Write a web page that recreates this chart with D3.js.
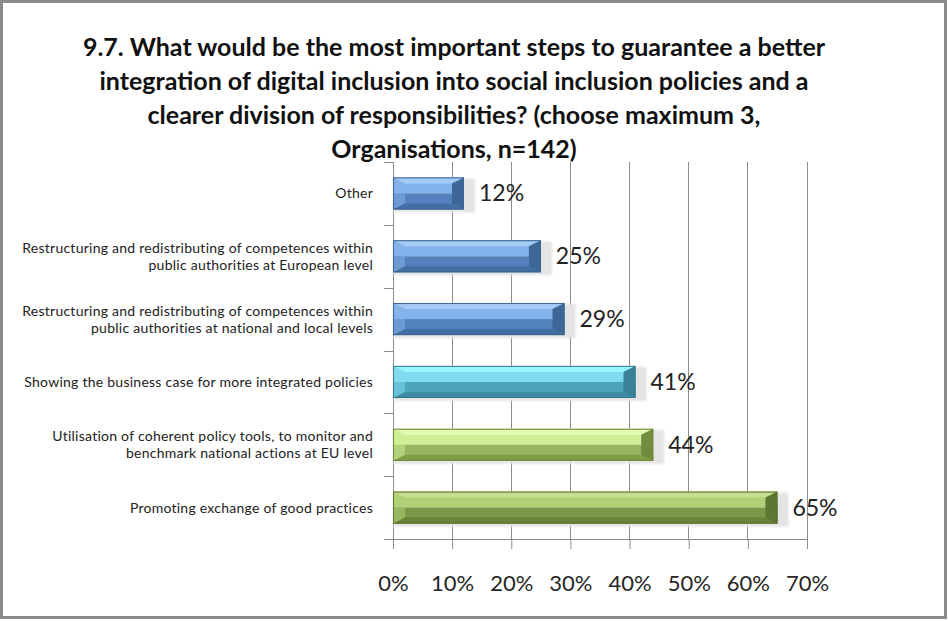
<!DOCTYPE html>
<html>
<head>
<meta charset="utf-8">
<script src="https://cdn.jsdelivr.net/npm/d3@7"></script>
<style>
  html, body { margin: 0; padding: 0; background: #fff; }
  svg { display: block; }
</style>
</head>
<body>
<svg id="chart" width="948" height="621"></svg>
<script>
// Survey answers, question 9.7 (organisations, n=142)
const titleLines = [
  "9.7. What would be the most important steps to guarantee a better",
  "integration of digital inclusion into social inclusion policies and a",
  "clearer division of responsibilities? (choose maximum 3,",
  "Organisations, n=142)"
];
const categories = [
  "Other",
  "Restructuring and redistributing of competences within\npublic authorities at European level",
  "Restructuring and redistributing of competences within\npublic authorities at national and local levels",
  "Showing the business case for more integrated policies",
  "Utilisation of coherent policy tools, to monitor and\nbenchmark national actions at EU level",
  "Promoting exchange of good practices"
];
const values = [0.12, 0.25, 0.29, 0.41, 0.44, 0.65];
const palette = ["blue", "blue", "blue", "cyan", "lime", "olive"];
const xTicks = [0, 0.1, 0.2, 0.3, 0.4, 0.5, 0.6, 0.7];

// Facet shades for the bevelled bars
const shades = {
  blue:  { top: "#a6cbf6", upper: "#84b2ea", lower: "#5482bf", bottom: "#426ea3", left: "#6c9bd3", right: "#3e6797", edge: "#3b6391" },
  cyan:  { top: "#96f6ff", upper: "#7edbed", lower: "#4ea3bc", bottom: "#3f8ba3", left: "#66c2d8", right: "#3a8199", edge: "#377a90" },
  lime:  { top: "#e4fbb4", upper: "#cfef96", lower: "#97b45f", bottom: "#809c49", left: "#b2d17a", right: "#718c3e", edge: "#6b853a" },
  olive: { top: "#c6df90", upper: "#b2d076", lower: "#7b9747", bottom: "#688237", left: "#98b55f", right: "#5d7631", edge: "#58702e" }
};

const svg = d3.select("#chart");
const W = 948, H = 621;
const plot = { left: 393, right: 807, top: 162, bottom: 539 };
const font = "Lato, 'Open Sans', sans-serif";

// outer frame
svg.append("rect")
  .attr("x", 1.5).attr("y", 1.5)
  .attr("width", W - 4).attr("height", H - 5)
  .attr("fill", "#fff").attr("stroke", "#8a8a8a").attr("stroke-width", 3);

// title
svg.append("text")
  .attr("text-anchor", "middle")
  .attr("font-family", font)
  .attr("font-weight", "bold")
  .attr("font-size", 25)
  .attr("fill", "#111")
  .selectAll("tspan").data(titleLines).join("tspan")
  .attr("x", 454)
  .attr("y", (d, i) => 56 + i * 34)
  .text(d => d);

const x = d3.scaleLinear().domain([0, 0.7]).range([plot.left, plot.right]);
const y = d3.scaleBand().domain(categories).range([plot.top, plot.bottom]).paddingInner(0.49).paddingOuter(0.245);

// soft shadow filter
const defs = svg.append("defs");
const blur = defs.append("filter").attr("id", "soft").attr("x", "-10%").attr("y", "-30%").attr("width", "120%").attr("height", "160%");
blur.append("feGaussianBlur").attr("stdDeviation", 1.2);

// vertical gridlines
svg.append("g")
  .selectAll("line").data(xTicks.slice(1)).join("line")
  .attr("x1", d => x(d)).attr("x2", d => x(d))
  .attr("y1", plot.top).attr("y2", plot.bottom)
  .attr("stroke", "#8c8c8c").attr("stroke-width", 1).attr("shape-rendering", "crispEdges");

// bottom axis
const xAxis = d3.axisBottom(x).tickValues(xTicks).tickFormat(d3.format(".0%")).tickSize(10).tickPadding(26);
const gx = svg.append("g").attr("transform", `translate(0,${plot.bottom})`).call(xAxis);
gx.select(".domain").attr("d", `M${plot.left - 6},0.5H${plot.right}`).attr("stroke", "#8c8c8c");
gx.selectAll(".tick line").attr("stroke", "#8c8c8c");
gx.selectAll(".tick text")
  .attr("font-family", font)
  .attr("font-size", 22).attr("fill", "#262626");

// left axis with band boundary ticks
const bandEdges = categories.map(c => y(c) - y.step() * y.paddingInner() / 2);
bandEdges.push(plot.bottom);
const gy = svg.append("g");
gy.append("line")
  .attr("x1", plot.left + 0.5).attr("x2", plot.left + 0.5)
  .attr("y1", plot.top).attr("y2", plot.bottom)
  .attr("stroke", "#8c8c8c");
gy.selectAll("line.tk").data(bandEdges).join("line").attr("class", "tk")
  .attr("x1", plot.left - 9).attr("x2", plot.left)
  .attr("y1", d => Math.round(d) + 0.5).attr("y2", d => Math.round(d) + 0.5)
  .attr("stroke", "#8c8c8c");

// category labels
const labels = svg.append("g")
  .attr("font-family", font)
  .attr("font-size", 14)
  .attr("letter-spacing", 0.25)
  .attr("fill", "#222")
  .attr("text-anchor", "end");
labels.selectAll("text").data(categories).join("text")
  .each(function (d) {
    const lines = d.split("\n");
    const cy = y(d) + y.bandwidth() / 2;
    const lh = 17;
    d3.select(this).selectAll("tspan").data(lines).join("tspan")
      .attr("x", 373)
      .attr("y", (l, i) => cy + (i - (lines.length - 1) / 2) * lh + 5)
      .text(l => l);
  });

// bars
const rows = categories.map((c, i) => ({ cat: c, value: values[i], shade: shades[palette[i]] }));
const bars = svg.append("g").selectAll("g").data(rows).join("g");

// shadow behind bar
bars.append("rect")
  .attr("x", x(0))
  .attr("y", d => y(d.cat) + 1)
  .attr("width", d => x(d.value) - x(0) + 11)
  .attr("height", y.bandwidth() + 2)
  .attr("fill", "#e4e4e4")
  .attr("filter", "url(#soft)");

bars.each(function (d) {
  const g = d3.select(this);
  const x0 = x(0), x1 = x(d.value);
  const y0 = y(d.cat), y1 = y0 + y.bandwidth();
  const ym = (y0 + y1) / 2;
  const b = 12, t = 6;
  const s = d.shade;
  const poly = pts => pts.map(p => p.join(",")).join(" ");
  // main face: light upper half, darker lower half
  g.append("rect").attr("x", x0).attr("y", y0).attr("width", x1 - x0).attr("height", ym - y0).attr("fill", s.upper);
  g.append("rect").attr("x", x0).attr("y", ym).attr("width", x1 - x0).attr("height", y1 - ym).attr("fill", s.lower);
  // chamfered edges
  g.append("polygon").attr("points", poly([[x0, y0], [x1, y0], [x1 - b, y0 + t], [x0 + b, y0 + t]])).attr("fill", s.top);
  g.append("polygon").attr("points", poly([[x0 + b, y1 - t], [x1 - b, y1 - t], [x1, y1], [x0, y1]])).attr("fill", s.bottom);
  g.append("polygon").attr("points", poly([[x0, y0], [x0 + b, y0 + t], [x0 + b, ym], [x0, ym]])).attr("fill", s.upper);
  g.append("polygon").attr("points", poly([[x0, ym], [x0 + b, ym], [x0 + b, y1 - t], [x0, y1]])).attr("fill", s.left);
  g.append("polygon").attr("points", poly([[x1, y0], [x1 - b, y0 + t], [x1 - b, y1 - t], [x1, y1]])).attr("fill", s.right);
  g.append("rect").attr("x", x0 + 0.5).attr("y", y0 + 0.5).attr("width", x1 - x0 - 1).attr("height", y1 - y0 - 1)
    .attr("fill", "none").attr("stroke", s.edge).attr("stroke-width", 1);
});

// value labels
svg.append("g")
  .attr("font-family", font)
  .attr("font-size", 23)
  .attr("fill", "#222")
  .selectAll("text").data(rows).join("text")
  .attr("x", d => x(d.value) + 15)
  .attr("y", d => y(d.cat) + y.bandwidth() / 2 + 8)
  .text(d => d3.format(".0%")(d.value));
</script>
</body>
</html>
